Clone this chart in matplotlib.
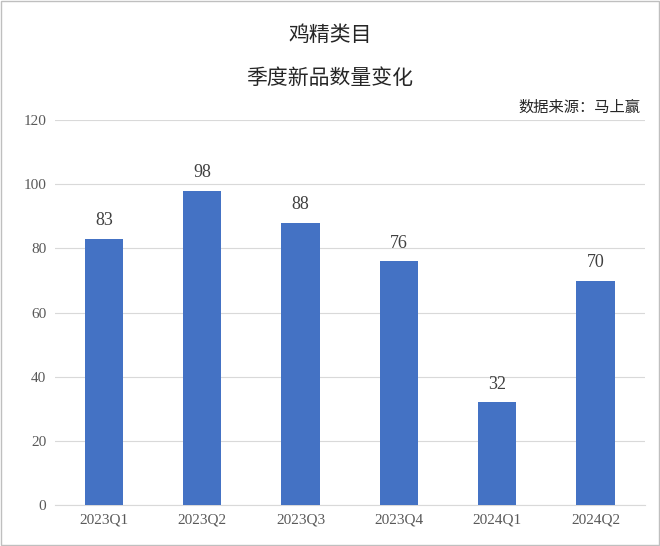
import matplotlib
matplotlib.use("Agg")
import matplotlib.pyplot as plt
from matplotlib.patches import Rectangle

categories = ["2023Q1", "2023Q2", "2023Q3", "2023Q4", "2024Q1", "2024Q2"]
values = [83, 98, 88, 76, 32, 70]
yticks = [0, 20, 40, 60, 80, 100, 120]

cjk = ["Noto Sans CJK SC", "DejaVu Sans"]
serif = ["Liberation Serif", "DejaVu Serif"]

fig = plt.figure(figsize=(6.6, 5.46), dpi=100)
ax = fig.add_axes([0.083, 0.075, 0.894, 0.705])
x = range(len(categories))
ax.bar(x, values, width=0.39, color="#4472C4", zorder=3)
for i, v in zip(x, values):
    ax.text(i, v + 3, str(v), ha="center", va="bottom", fontsize=13, family=serif, color="#404040")
ax.set_ylim(0, 120)
ax.set_xlim(-0.5, len(categories) - 0.5)
ax.set_yticks(yticks)
ax.set_yticklabels([str(t) for t in yticks], family=serif, fontsize=11, color="#595959")
ax.set_xticks(list(x))
ax.set_xticklabels(categories, family=serif, fontsize=11, color="#595959")
ax.grid(axis="y", color="#d9d9d9", linewidth=0.8, zorder=0)
for s in ["top", "right", "left"]:
    ax.spines[s].set_visible(False)
ax.spines["bottom"].set_color("#d9d9d9")
ax.tick_params(length=0, pad=6)

fig.text(0.5, 0.936, "鸡精类目", ha="center", va="center", fontsize=15, family=cjk, color="#262626")
fig.text(0.5, 0.857, "季度新品数量变化", ha="center", va="center", fontsize=15, family=cjk, color="#262626")
fig.text(0.97, 0.804, "数据来源：马上赢", ha="right", va="center", fontsize=11, family=cjk, color="#262626")
fig.patches.append(Rectangle((0.002, 0.002), 0.996, 0.996, transform=fig.transFigure,
                             fill=False, edgecolor="#bfbfbf", linewidth=1))
fig.savefig("out.png", dpi=100)
